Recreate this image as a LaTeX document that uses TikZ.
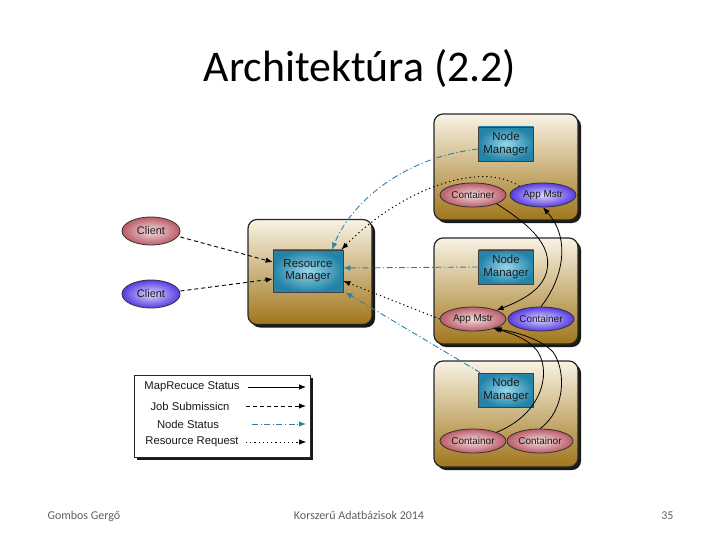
\documentclass[tikz,border=0pt]{standalone}
\usepackage{fontspec}
\setmainfont{Carlito}
\newfontfamily\diagfont{Liberation Sans}
\usetikzlibrary{shapes.geometric,arrows.meta,shadows}

\definecolor{boxtop}{RGB}{248,243,228}
\definecolor{boxmid}{RGB}{214,186,118}
\definecolor{boxbot}{RGB}{160,118,28}
\definecolor{mgrin}{RGB}{150,215,235}
\definecolor{mgrout}{RGB}{36,132,168}
\definecolor{pinkin}{RGB}{244,222,222}
\definecolor{pinkout}{RGB}{186,92,104}
\definecolor{purpin}{RGB}{222,216,255}
\definecolor{purpout}{RGB}{88,58,226}
\definecolor{statcol}{RGB}{40,130,162}
\definecolor{footgray}{RGB}{95,95,95}

\tikzset{
  hostbox/.style={draw=black!85, line width=1.2bp, rounded corners=9bp,
    minimum width=144bp, minimum height=106bp,
    top color=boxtop, middle color=boxmid, bottom color=boxbot,
    drop shadow={shadow xshift=3bp, shadow yshift=-3bp, fill=black, opacity=.9}},
  mgrbox/.style={draw=black!75, line width=.8bp, inner color=mgrin, outer color=mgrout,
    minimum width=55bp, minimum height=34bp, align=center, inner sep=1bp,
    font=\diagfont\fontsize{11.5}{12.5}\selectfont, text=black!90},
  pinknode/.style={ellipse, draw=black!80, line width=.8bp, inner color=pinkin, outer color=pinkout,
    minimum width=66bp, minimum height=24bp, inner sep=0pt,
    font=\diagfont\fontsize{10}{11}\selectfont, text=black!90},
  purpnode/.style={pinknode, inner color=purpin, outer color=purpout},
  legendbox/.style={draw=black!85, line width=.8bp, fill=white, minimum width=176bp, minimum height=82bp,
    drop shadow={shadow xshift=3bp, shadow yshift=-3bp, fill=black, opacity=.9}},
  legtext/.style={font=\diagfont\fontsize{11.3}{12}\selectfont, text=black!90, inner sep=0pt},
  tip/.style={-{Latex[length=7bp,width=5.5bp]}},
  mrstatus/.style={tip, black, line width=.8bp},
  jobsub/.style={tip, black, line width=.9bp, dash pattern=on 4bp off 3bp},
  nodestat/.style={tip, statcol, line width=.9bp, dash pattern=on 6bp off 2.5bp on 1.2bp off 2.5bp},
  resreq/.style={tip, black, line width=1bp, dash pattern=on 1.2bp off 3bp},
  foot/.style={font=\fontsize{12}{14}\selectfont, text=footgray}
}

\begin{document}
\begin{tikzpicture}[x=1bp,y=-1bp]
\useasboundingbox (0,0) rectangle (720,540);

\node[anchor=base, font=\fontsize{44}{50}\selectfont] (title) at (360,82) {Architektúra (2.2)};

% host boxes
\node[hostbox] (host1) at (506,167) {};
\node[hostbox] (host2) at (506,291) {};
\node[hostbox] (host3) at (506,414) {};
\node[hostbox, minimum width=124bp, minimum height=105bp] (rmhost) at (310,272) {};

% managers
\node[mgrbox] (nm1) at (506,144) {Node\\Manager};
\node[mgrbox] (nm2) at (506,267) {Node\\Manager};
\node[mgrbox] (nm3) at (506,390) {Node\\Manager};
\node[mgrbox, minimum width=70bp, minimum height=42bp] (rm) at (308,271) {Resource\\Manager};

% containers and app masters
\node[pinknode] (ct1) at (473,195) {Container};
\node[purpnode] (am1) at (543,195) {App Mstr};
\node[pinknode] (am2) at (473,319) {App Mstr};
\node[purpnode] (ct2) at (541,319) {Container};
\node[pinknode] (ct3) at (473,441) {Containor};
\node[pinknode] (ct4) at (540,441) {Containor};

% clients
\node[pinknode, minimum width=58bp, minimum height=28bp, font=\diagfont\fontsize{11}{12}\selectfont] (cl1) at (151,231) {Client};
\node[purpnode, minimum width=58bp, minimum height=28bp, font=\diagfont\fontsize{11}{12}\selectfont] (cl2) at (151,294) {Client};

% job submission
\draw[jobsub] ([yshift=-6bp]cl1.east) -- ([yshift=9bp]rm.west);
\draw[jobsub] ([yshift=3bp]cl2.east) -- ([yshift=-8bp]rm.west);

% node status
\draw[nodestat] ([yshift=-5bp]nm1.west) .. controls (400,158) and (350,205) .. ([xshift=24bp]rm.north);
\draw[nodestat] (nm2.west) -- ([yshift=3bp]rm.east);
\draw[nodestat] ([xshift=2bp]nm3.north west) -- ([xshift=2bp]rm.south east);

% resource request
\draw[resreq] (am1.north west) .. controls (480,160) and (400,190) .. ([xshift=-2bp]rm.north east);
\draw[resreq] (am2.west) -- ([yshift=-10bp]rm.east);

% mapreduce status
\draw[mrstatus] (ct1.south east) .. controls (530,225) and (552,245) .. (547,270) .. controls (543,292) and (515,303) .. (am2.north east);
\draw[mrstatus] (ct2.north) .. controls (562,280) and (572,240) .. (am1.south);
\draw[mrstatus] (ct3.north east) .. controls (540,415) and (552,375) .. (538,352) .. controls (528,338) and (510,333) .. ([xshift=-4bp]am2.south east);
\draw[mrstatus] (ct4.north) .. controls (566,410) and (566,370) .. (553,352) .. controls (541,339) and (516,332) .. ([xshift=-2bp,yshift=-1bp]am2.south east);

% legend
\node[legendbox] (legend) at (222,416) {};
\node[legtext] (lmr) at (192,387) {MapRecuce Status};
\node[legtext] (ljs) at (190,406) {Job Submissicn};
\node[legtext] (lns) at (188,424) {Node Status};
\node[legtext] (lrr) at (192,442) {Resource Request};
\coordinate (lmr0) at (248,387); \coordinate (lmr1) at (306,387);
\coordinate (ljs0) at (246,406); \coordinate (ljs1) at (306,406);
\coordinate (lns0) at (252,424); \coordinate (lns1) at (306,424);
\coordinate (lrr0) at (246,442); \coordinate (lrr1) at (306,442);
\draw[mrstatus] (lmr0) -- (lmr1);
\draw[jobsub] (ljs0) -- (ljs1);
\draw[nodestat] (lns0) -- (lns1);
\draw[resreq, line width=.6bp] (lrr0) -- (lrr1);

% footer
\node[foot, anchor=base west] (author) at (44,519) {Gombos Gergő};
\node[foot, anchor=base] (course) at (359,519) {Korszerű Adatbázisok 2014};
\node[foot, anchor=base east] (page) at (677,519) {35};
\end{tikzpicture}
\end{document}
